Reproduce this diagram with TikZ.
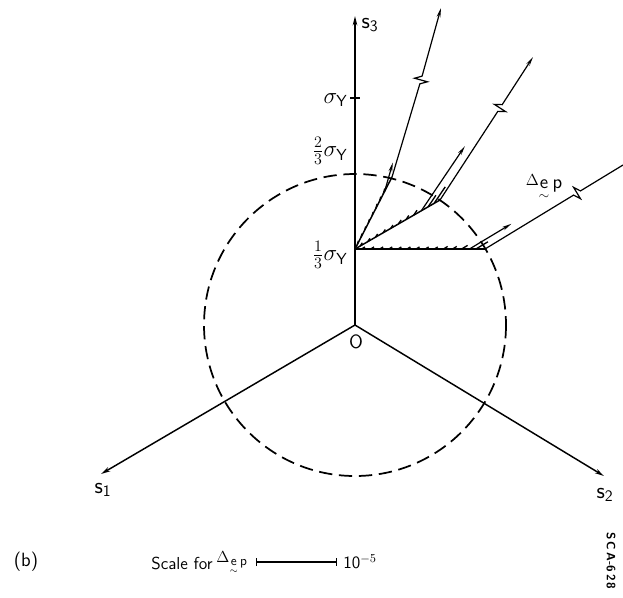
\documentclass[tikz,border=0pt]{standalone}
\usepackage{amsmath,amssymb}
\usepackage{xcolor}
\usepackage{tikz}
\usetikzlibrary{arrows.meta,calc,positioning}

\tikzset{
  axis/.style={line width=1.1pt,-{Stealth[length=7pt,width=3.4pt]}},
  yieldcirc/.style={line width=1.3pt,dash pattern=on 10pt off 5pt},
  loadpath/.style={line width=1.1pt},
  hatch/.style={line width=1pt},
  vec/.style={line width=0.9pt,-{Stealth[length=7pt,width=2.8pt]}},
  lbl/.style={inner sep=0.75pt,font=\LARGE\sffamily},
  small lbl/.style={inner sep=0.75pt,font=\fontsize{13}{15}\selectfont\sffamily},
}

% long strain vector with a break mark: start, break, tip
\newcommand{\brkvec}[3]{%
  \draw[vec] (#1) -- ($(#2)!3pt!(#1)$) -- ($(#2)!5pt!90:(#3)$) -- ($(#2)!5pt!-90:(#3)$) -- ($(#2)!3pt!(#3)$) -- (#3);}
% strain increment symbol: size of Delta, size of e p
\newcommand{\dep}[2]{{#1$\Delta$}\raisebox{-2pt}{#2$\underset{\sim}{\mathsf{e}}$\,p}}

\begin{document}
\begin{tikzpicture}[x=0.75pt,y=0.75pt,yscale=-1,xscale=1]
\useasboundingbox (0,0) rectangle (623,597);

%Axes
\coordinate (O) at (355,325);
\coordinate (s3tip) at (355,16);
\coordinate (s1tip) at (101,474);
\coordinate (s2tip) at (604,476);
\draw[axis] (O) -- (s3tip);
\draw[axis] (O) -- (s1tip);
\draw[axis] (O) -- (s2tip);
\draw[line width=1.1pt] (350,98) -- (360,98);

%Shape: Circle
\draw[yieldcirc] (O) circle (151);

%Load paths
\coordinate (P) at (355,249);
\coordinate (A1) at (392,177);
\coordinate (B1) at (440,200);
\coordinate (C1) at (485,249);
\draw[loadpath] (P) -- (A1);
\draw[loadpath] (P) -- (B1);
\draw[loadpath] (P) -- (C1);

%Hatches along the paths
\foreach \t/\l in {0.06/4,0.16/4,0.26/4,0.36/4,0.46/4,0.56/5,0.66/5,0.76/6}
  \draw[hatch] ($(P)!\t!(A1)$) -- ++(-74:\l);
\foreach \t/\l in {0.06/4,0.15/4,0.24/4,0.33/4,0.42/4,0.51/5,0.6/5,0.69/6,0.86/14,0.93/20}
  \draw[hatch] ($(P)!\t!(B1)$) -- ++(-56:\l);
\foreach \t/\l in {0.05/4,0.12/4,0.19/4,0.26/4,0.33/4,0.4/4,0.47/4,0.54/4,0.61/4,0.68/5,0.75/5,0.82/7,0.93/14}
  \draw[hatch] ($(P)!\t!(C1)$) -- ++(-31:\l);

%Short strain vectors
\draw[vec] ($(P)!0.8!(A1)$) -- ++(-74:30);
\draw[vec] ($(P)!0.78!(B1)$) -- ++(-56:78);
\draw[vec] ($(P)!0.88!(C1)$) -- ++(-31:49);

%Long strain vectors
\coordinate (Abrk) at (421,80);
\coordinate (Atip) at (441,8);
\coordinate (Bbrk) at (500,108);
\coordinate (Btip) at (533,57);
\coordinate (Cbrk) at (577,193);
\coordinate (Ctip) at (623,165);
\brkvec{A1}{Abrk}{Atip}
\brkvec{B1}{Bbrk}{Btip}
\draw[line width=0.9pt] (C1) -- ($(Cbrk)!3pt!(C1)$) -- ($(Cbrk)!5pt!90:(Ctip)$) -- ($(Cbrk)!5pt!-90:(Ctip)$) -- ($(Cbrk)!3pt!(Ctip)$) -- (Ctip);

% Text Node
\node[lbl] (s3lbl) at (370,25) {s$_{\mathsf{3}}$};
\node[lbl] (s1lbl) at (103,490) {s$_{\mathsf{1}}$};
\node[lbl] (s2lbl) at (605,495) {s$_{\mathsf{2}}$};
\node[lbl,font=\Large\sffamily] (olbl) at (356,342) {O};
\node[lbl,anchor=east] (sylbl) at (349,100) {$\sigma_{\mathsf{Y}}$};
\node[lbl,anchor=east] (s23lbl) at (349,151) {$\frac{2}{3}\sigma_{\mathsf{Y}}$};
\node[lbl,anchor=east] (s13lbl) at (349,255) {$\frac{1}{3}\sigma_{\mathsf{Y}}$};
\node[lbl] (delbl) at (544,188) {\dep{\large}{\Large}};

% Scale
\node[lbl,font=\Large\sffamily] (blbl) at (26,562) {(b)};
\node[small lbl] (scalelbl) at (182,563) {Scale for};
\node[small lbl,right=1pt of scalelbl] (scde) {\dep{\large}{\normalsize}};
\coordinate (sb1) at (256,562);
\coordinate (sb2) at (337,562);
\draw[line width=0.9pt,{Bar[width=6pt]}-{Bar[width=6pt]}] (sb1) -- (sb2);
\node[small lbl,anchor=west] (explbl) at (342,562) {10$^{-5}$};
\node[inner sep=0.75pt,font=\small\sffamily\bfseries,rotate=-90] (idlbl) at (611,561) {S\,C\,A-6\,2\,8};
\end{tikzpicture}
\end{document}
